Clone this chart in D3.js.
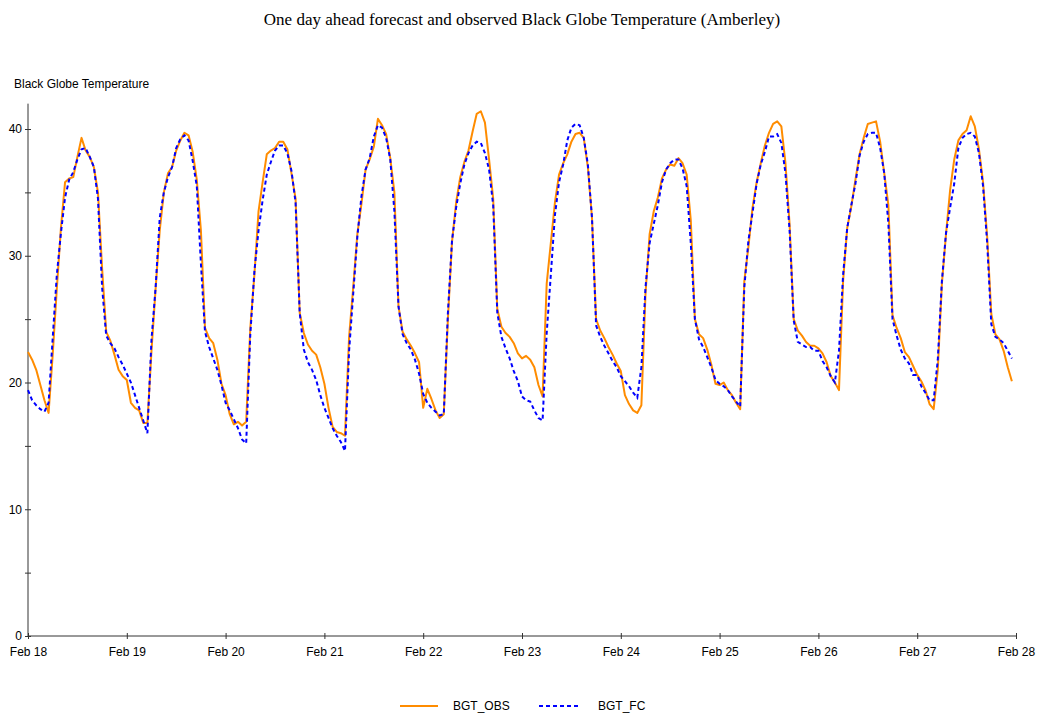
<!DOCTYPE html>
<html>
<head>
<meta charset="utf-8">
<script src="https://cdn.jsdelivr.net/npm/d3@7"></script>
<style>
  body { margin: 0; background: #fff; }
  .axis text { font-family: "Liberation Sans", Arial, sans-serif; font-size: 12px; fill: #000; }
  .axis path, .axis line { stroke: #333; }
</style>
</head>
<body>
<div id="chart"></div>
<script>
// hourly series, starting Feb 18 00:00
var startTime = Date.UTC(2000, 1, 18, 0);
var endTime = Date.UTC(2000, 1, 28, 0);

var obsValues = [
  22.4, 21.8, 21.0, 19.8, 18.6, 17.6, 22.2, 27.4, 32.2, 35.8, 36.1, 36.2, 37.8, 39.3, 38.3, 37.8, 37.0, 35.0, 29.0, 24.0, 23.3, 22.2, 21.0, 20.5,
  20.2, 18.4, 18.0, 17.8, 16.8, 16.8, 22.5, 27.4, 32.0, 35.0, 36.5, 37.0, 38.3, 39.1, 39.7, 39.5, 38.2, 36.0, 32.0, 24.3, 23.5, 23.1, 21.8, 19.9,
  19.0, 17.5, 16.7, 16.9, 16.6, 16.9, 24.3, 28.5, 33.5, 35.8, 38.0, 38.3, 38.5, 39.0, 39.0, 38.4, 36.5, 34.5, 25.5, 23.9, 23.0, 22.5, 22.2, 21.2,
  19.9, 18.0, 16.5, 16.1, 16.0, 15.8, 23.6, 27.5, 31.7, 34.1, 36.8, 37.6, 38.6, 40.8, 40.3, 39.6, 37.7, 35.0, 26.0, 24.0, 23.4, 22.9, 22.3, 21.6,
  18.0, 19.5, 18.7, 17.8, 17.2, 17.5, 25.0, 31.1, 34.2, 36.2, 37.4, 38.3, 39.8, 41.2, 41.4, 40.5, 37.6, 34.5, 25.8, 24.4, 23.9, 23.6, 23.1, 22.3,
  21.9, 22.1, 21.8, 21.2, 19.8, 18.9, 27.8, 31.0, 34.2, 36.4, 37.3, 38.0, 39.0, 39.6, 39.7, 39.3, 37.0, 33.0, 25.0, 24.1, 23.5, 22.8, 22.2, 21.5,
  20.9, 19.0, 18.3, 17.8, 17.6, 18.2, 27.0, 31.7, 33.5, 34.6, 36.1, 36.8, 37.2, 37.1, 37.7, 37.3, 36.4, 32.8, 25.0, 23.8, 23.5, 22.6, 21.4, 19.9,
  19.8, 20.0, 19.4, 19.0, 18.4, 17.9, 28.0, 30.7, 33.8, 35.8, 37.3, 38.7, 39.7, 40.4, 40.6, 40.2, 37.3, 32.5, 25.0, 24.1, 23.7, 23.2, 22.9, 22.9,
  22.7, 22.3, 21.6, 20.5, 20.0, 19.4, 28.0, 32.2, 33.9, 36.0, 38.0, 39.3, 40.4, 40.5, 40.6, 39.0, 36.5, 34.0, 25.3, 24.3, 23.5, 22.4, 22.0, 21.3,
  20.6, 20.1, 19.4, 18.3, 17.9, 21.0, 27.8, 31.7, 35.2, 37.6, 39.1, 39.6, 39.9, 41.0, 40.2, 38.4, 35.8, 31.5, 25.4, 23.8, 23.4, 22.5, 21.2, 20.1
];

var fcValues = [
  19.4, 18.6, 18.2, 17.9, 17.7, 18.4, 23.5, 28.5, 31.8, 34.6, 36.0, 36.6, 37.6, 38.4, 38.5, 37.8, 37.0, 34.5, 27.5, 23.7, 23.1, 22.7, 22.0, 21.4,
  20.7, 20.0, 19.0, 18.0, 17.0, 16.0, 23.4, 27.5, 33.0, 35.0, 36.2, 37.0, 38.5, 39.2, 39.5, 39.1, 37.5, 35.5, 29.4, 24.0, 22.8, 21.9, 21.0, 19.8,
  18.4, 17.8, 17.1, 16.4, 15.5, 15.2, 23.8, 28.8, 32.0, 34.4, 36.4, 37.4, 38.3, 38.7, 38.7, 38.1, 36.7, 34.2, 25.5, 22.6, 21.6, 21.0, 20.2, 19.0,
  18.0, 17.2, 16.4, 15.8, 15.3, 14.6, 22.5, 27.0, 31.5, 34.7, 36.8, 37.7, 39.4, 40.3, 40.1, 39.3, 37.6, 33.5, 26.0, 23.8, 23.1, 22.6, 21.8, 20.7,
  19.1, 18.4, 18.0, 17.7, 17.4, 17.5, 25.5, 31.2, 33.8, 35.7, 37.2, 38.1, 38.7, 39.0, 38.9, 38.1, 36.8, 34.0, 25.5, 23.6, 22.7, 21.9, 20.9, 20.1,
  18.9, 18.6, 18.5, 17.8, 17.2, 17.0, 23.9, 28.5, 33.2, 35.8, 37.2, 39.1, 40.1, 40.4, 40.3, 39.3, 37.2, 33.0, 24.5, 23.6, 22.9, 22.3, 21.7, 21.2,
  20.5, 20.1, 19.7, 19.2, 18.8, 21.2, 27.5, 31.0, 32.5, 34.0, 35.8, 36.8, 37.3, 37.6, 37.6, 36.9, 35.5, 31.0, 25.0, 23.4, 22.8, 22.0, 21.2, 20.2,
  19.9, 19.7, 19.4, 18.9, 18.5, 18.1, 27.5, 31.2, 33.4, 35.7, 37.2, 38.2, 39.4, 39.4, 39.6, 38.9, 36.5, 32.0, 24.9, 23.2, 23.0, 22.8, 22.8, 22.5,
  22.5, 21.7, 21.2, 20.5, 20.0, 22.5, 28.5, 32.2, 34.0, 35.7, 37.9, 39.0, 39.6, 39.7, 39.7, 38.5, 36.5, 32.5, 25.0, 23.7, 22.6, 21.9, 21.5, 20.6,
  20.6, 19.7, 19.2, 18.6, 18.6, 21.8, 28.0, 31.8, 33.8, 35.7, 38.5, 39.3, 39.6, 39.7, 39.4, 38.1, 35.5, 31.0, 24.6, 23.6, 23.4, 23.1, 22.5, 21.9
];

var seriesNames = ["BGT_OBS", "BGT_FC"];
var yTicks = [0, 5, 10, 15, 20, 25, 30, 35, 40];
var yLabelTicks = [0, 10, 20, 30, 40];

var width = 1040, height = 715;
var margin = {left: 28, right: 24, top: 103, bottom: 79};

var svg = d3.select("#chart").append("svg")
  .attr("width", width)
  .attr("height", height);

var x = d3.scaleUtc()
  .domain([startTime, endTime])
  .range([margin.left, width - margin.right]);

var y = d3.scaleLinear()
  .domain([0, 42])
  .range([height - margin.bottom, height - margin.bottom - 42 * (507 / 40)]);

function toPoints(values) {
  return values.map(function(v, i) { return [startTime + i * 3600000, v]; });
}

var line = d3.line()
  .x(function(d) { return x(d[0]); })
  .y(function(d) { return y(d[1]); });

// title
svg.append("text")
  .attr("x", 522)
  .attr("y", 25)
  .attr("text-anchor", "middle")
  .style("font-family", "'Liberation Serif', 'Times New Roman', serif")
  .style("font-size", "17px")
  .text("One day ahead forecast and observed Black Globe Temperature (Amberley)");

// y axis label
svg.append("text")
  .attr("x", 14)
  .attr("y", 88)
  .style("font-family", "'Liberation Sans', Arial, sans-serif")
  .style("font-size", "12px")
  .text("Black Globe Temperature");

// Y axis
var yAxis = svg.append("g")
  .attr("class", "axis")
  .attr("transform", "translate(" + margin.left + ",0)")
  .call(d3.axisLeft(y).tickValues(yTicks).tickSize(3).tickPadding(3)
    .tickFormat(function(d) { return yLabelTicks.indexOf(d) >= 0 ? d : ""; }));
yAxis.select(".domain").attr("d", "M0," + y(42) + "V" + y(0));
yAxis.selectAll(".tick line").attr("x1", 3).attr("x2", -3);

// X axis
var xAxis = svg.append("g")
  .attr("class", "axis")
  .attr("transform", "translate(0," + y(0) + ")")
  .call(d3.axisBottom(x).ticks(d3.utcDay.every(1)).tickSize(3).tickPadding(8)
    .tickFormat(d3.utcFormat("%b %-d")));
xAxis.select(".domain").attr("d", "M" + x(startTime) + ",0H" + x(endTime));
xAxis.selectAll(".tick line").attr("y1", -3).attr("y2", 3);

// lines
svg.append("path")
  .datum(toPoints(obsValues))
  .attr("fill", "none")
  .attr("stroke", "#ff8c00")
  .attr("stroke-width", 2)
  .attr("stroke-linejoin", "round")
  .attr("d", line);

svg.append("path")
  .datum(toPoints(fcValues))
  .attr("fill", "none")
  .attr("stroke", "#0000ff")
  .attr("stroke-width", 2)
  .attr("stroke-dasharray", "4,3")
  .attr("d", line);

// legend
var legend = svg.append("g").attr("transform", "translate(0,706)");
legend.append("line")
  .attr("x1", 400).attr("x2", 438).attr("y1", 0).attr("y2", 0)
  .attr("stroke", "#ff8c00").attr("stroke-width", 2);
legend.append("text")
  .attr("x", 453).attr("y", 4)
  .style("font-family", "'Liberation Sans', Arial, sans-serif")
  .style("font-size", "12px")
  .text(seriesNames[0]);
legend.append("line")
  .attr("x1", 539).attr("x2", 581).attr("y1", 0).attr("y2", 0)
  .attr("stroke", "#0000ff").attr("stroke-width", 2)
  .attr("stroke-dasharray", "4,3");
legend.append("text")
  .attr("x", 598).attr("y", 4)
  .style("font-family", "'Liberation Sans', Arial, sans-serif")
  .style("font-size", "12px")
  .text(seriesNames[1]);
</script>
</body>
</html>
